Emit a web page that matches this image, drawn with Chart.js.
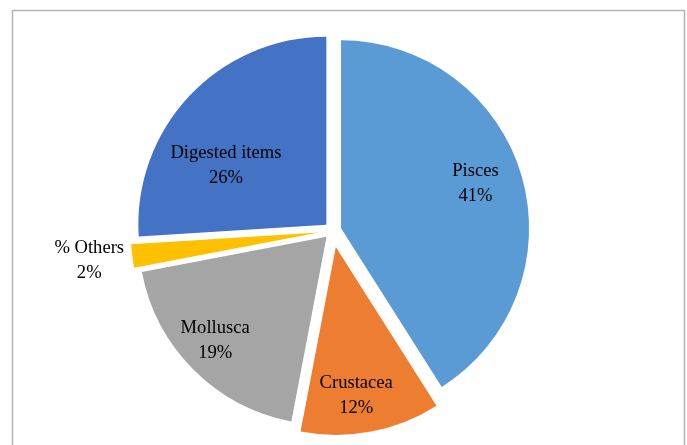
<!DOCTYPE html>
<html>
<head>
<meta charset="utf-8">
<script src="https://cdn.jsdelivr.net/npm/chart.js@4.4.1/dist/chart.umd.min.js"></script>
<style>
  html, body { margin: 0; padding: 0; background: #fff; }
</style>
</head>
<body>
<canvas id="pieChart" width="687" height="445"></canvas>
<script>
const categories = ['Pisces', 'Crustacea', 'Mollusca', '% Others', 'Digested items'];
const shares = [41, 12, 19, 2, 26];
const colors = ['#5b9bd5', '#ed7d31', '#a5a5a5', '#ffc000', '#4472c4'];

// how far each slice is pulled out from the centre (px)
const explode = [8.7, 16.5, 8.7, 14, 8.7];
// label spot: distance from the slice tip (share of radius) and turn off the slice middle (deg)
const labelDist = [0.754, 0.80, 0.81, 1.23, 0.62];
const labelTurn = [-2.3, 3, 2, 0.3, -12.7];

// arc that gets shifted along its middle angle without growing its radius
class ExplodedArc extends Chart.ArcElement {
  static id = 'explodedArc';
  static defaults = { ...Chart.ArcElement.defaults, explode: 0 };

  draw(ctx) {
    const d = this.options.explode || 0;
    const mid = (this.startAngle + this.endAngle) / 2;
    ctx.save();
    ctx.translate(Math.cos(mid) * d, Math.sin(mid) * d);
    super.draw(ctx);
    ctx.restore();
  }
}
Chart.register(ExplodedArc);
Chart.defaults.datasets.pie.dataElementType = 'explodedArc';

const frame = {
  id: 'frame',
  beforeDraw(chart) {
    const ctx = chart.ctx;
    ctx.save();
    ctx.strokeStyle = '#b4b4b4';
    ctx.lineWidth = 1.5;
    ctx.strokeRect(12.5, 10.5, 672, 460);
    ctx.restore();
  }
};

const sliceLabels = {
  id: 'sliceLabels',
  afterDatasetsDraw(chart) {
    const ctx = chart.ctx;
    const arcs = chart.getDatasetMeta(0).data;
    const total = shares.reduce((a, b) => a + b, 0);
    ctx.save();
    ctx.font = '18.6px "Liberation Serif", "Times New Roman", serif';
    ctx.fillStyle = '#000';
    ctx.textAlign = 'center';
    ctx.textBaseline = 'middle';
    arcs.forEach((arc, i) => {
      const { x, y, startAngle, endAngle, outerRadius } =
        arc.getProps(['x', 'y', 'startAngle', 'endAngle', 'outerRadius'], true);
      const mid = (startAngle + endAngle) / 2;
      const d = arc.options.explode || 0;
      const tipX = x + Math.cos(mid) * d;
      const tipY = y + Math.sin(mid) * d;
      const a = mid + labelTurn[i] * Math.PI / 180;
      const r = labelDist[i] * outerRadius;
      const lx = tipX + Math.cos(a) * r;
      const ly = tipY + Math.sin(a) * r;
      const pct = Math.round(shares[i] / total * 100) + '%';
      ctx.fillText(categories[i], lx, ly - 12.5);
      ctx.fillText(pct, lx, ly + 12.5);
    });
    ctx.restore();
  }
};

new Chart(document.getElementById('pieChart'), {
  type: 'pie',
  data: {
    labels: categories,
    datasets: [{
      data: shares,
      backgroundColor: colors,
      borderWidth: 0,
      explode: explode,
      radius: 188
    }]
  },
  options: {
    responsive: false,
    animation: false,
    events: [],
    layout: {
      padding: { left: 0, right: 21.6, top: 16.4, bottom: 0 }
    },
    plugins: {
      legend: { display: false },
      tooltip: { enabled: false }
    }
  },
  plugins: [frame, sliceLabels]
});
</script>
</body>
</html>
